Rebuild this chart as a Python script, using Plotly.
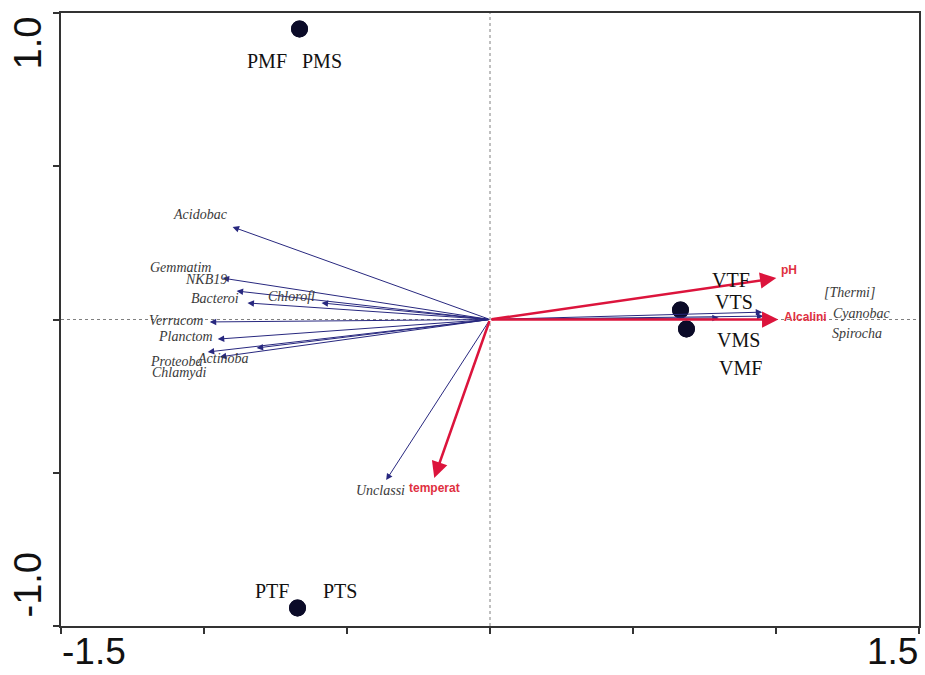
import plotly.graph_objects as go

# ---- data ----
species = ["Acidobac", "Gemmatim", "NKB19", "Bacteroi", "Chlorofl", "Verrucom",
           "Planctom", "Actinoba", "Proteoba", "Chlamydi", "Unclassi",
           "[Thermi]", "Cyanobac", "Spirocha"]
species_x = [-0.900, -0.935, -0.886, -0.848, -0.589, -0.980,
             -0.952, -0.816, -0.987, -0.945, -0.363,
             0.952, 0.956, 0.800]
species_y = [0.302, 0.135, 0.093, 0.054, 0.054, -0.008,
             -0.064, -0.093, -0.106, -0.122, -0.524,
             0.024, 0.011, 0.005]

env = ["pH", "Alcalini", "temperat"]
env_x = [1.001, 1.008, -0.195]
env_y = [0.135, 0.000, -0.517]

sites = ["PMF", "PMS", "PTF", "PTS", "VTF", "VTS", "VMS", "VMF"]
site_x = [-0.666, -0.666, -0.673, -0.673, 0.666, 0.666, 0.687, 0.687]
site_y = [0.948, 0.948, -0.941, -0.941, 0.031, 0.031, -0.031, -0.031]

x_ticks = [-1.5, -1.0, -0.5, 0.0, 0.5, 1.0, 1.5]
y_ticks = [-1.0, -0.5, 0.0, 0.5, 1.0]
x_tick_labels = {-1.5: "-1.5", 1.5: "1.5"}
y_tick_labels = {1.0: "1.0", -1.0: "-1.0"}

# ---- styles (label pixel offsets from the arrow tip / point) ----
species_shift = {
    "Acidobac": (-32, 12), "Gemmatim": (-42, 11), "NKB19": (-31, 12),
    "Bacteroi": (-32, 4), "Chlorofl": (-30, 6), "Verrucom": (-34, 1),
    "Planctom": (-32, 3), "Actinoba": (-34, -10), "Proteoba": (-31, -10),
    "Chlamydi": (-40, -16), "Unclassi": (-6, -10), "[Thermi]": (87, 20),
    "Cyanobac": (99, 3), "Spirocha": (138, -16),
}
env_shift = {"pH": (13, 8), "Alcalini": (27, 3), "temperat": (0, -10)}
site_shift = {
    "PMF": (-33, -32), "PMS": (22, -32), "PTF": (-26, 17), "PTS": (42, 17),
    "VTF": (51, 30), "VTS": (54, 8), "VMS": (52, -11), "VMF": (54, -39),
}

NAVY = "#28287f"
RED = "#dc143c"
SERIF = "Liberation Serif, Times New Roman, serif"
SANS = "Liberation Sans, Arial, sans-serif"

fig = go.Figure()

# sample points
fig.add_trace(go.Scatter(
    x=site_x, y=site_y, mode="markers",
    marker=dict(size=17, color="#0b0b28"),
    hoverinfo="text", text=sites, showlegend=False))

annotations = []
# species arrows
for name, sx, sy in zip(species, species_x, species_y):
    annotations.append(dict(
        x=sx, y=sy, ax=0, ay=0, xref="x", yref="y", axref="x", ayref="y",
        text="", showarrow=True, arrowhead=2, arrowsize=1.3, arrowwidth=1,
        arrowcolor=NAVY, standoff=0))
# environmental arrows
for name, ex, ey in zip(env, env_x, env_y):
    annotations.append(dict(
        x=ex, y=ey, ax=0, ay=0, xref="x", yref="y", axref="x", ayref="y",
        text="", showarrow=True, arrowhead=2, arrowsize=1.3, arrowwidth=2.5,
        arrowcolor=RED, standoff=0))
# species labels
for name, sx, sy in zip(species, species_x, species_y):
    dx, dy = species_shift[name]
    annotations.append(dict(
        x=sx, y=sy, xref="x", yref="y", text="<i>%s</i>" % name, showarrow=False,
        xshift=dx, yshift=dy, xanchor="center", yanchor="middle",
        font=dict(family=SERIF, size=14, color="#3a3a3a")))
# env labels
for name, ex, ey in zip(env, env_x, env_y):
    dx, dy = env_shift[name]
    annotations.append(dict(
        x=ex, y=ey, xref="x", yref="y", text="<b>%s</b>" % name, showarrow=False,
        xshift=dx, yshift=dy, xanchor="center", yanchor="middle",
        font=dict(family=SANS, size=12, color="#e0303f")))
# site labels
for name, px, py in zip(sites, site_x, site_y):
    dx, dy = site_shift[name]
    annotations.append(dict(
        x=px, y=py, xref="x", yref="y", text=name, showarrow=False,
        xshift=dx, yshift=dy, xanchor="center", yanchor="middle",
        font=dict(family=SERIF, size=20, color="#111111")))
# axis end labels
for v, lab in x_tick_labels.items():
    annotations.append(dict(
        x=v, y=0, xref="x", yref="paper", text=lab, showarrow=False,
        xanchor="left" if v < 0 else "right", yanchor="top", yshift=-4,
        borderpad=0,
        font=dict(family=SANS, size=37, color="#111111")))
for v, lab in y_tick_labels.items():
    annotations.append(dict(
        x=0, y=v, xref="paper", yref="y", text=lab, showarrow=False,
        textangle=-90, xanchor="right", xshift=-11,
        yanchor="top" if v > 0 else "bottom", yshift=-2 if v > 0 else 6,
        font=dict(family=SANS, size=38, color="#111111")))

shapes = [
    dict(type="line", xref="x", yref="paper", x0=0, x1=0, y0=0, y1=1,
         line=dict(color="#808080", width=1, dash="dot"), layer="below"),
    dict(type="line", xref="paper", yref="y", x0=0, x1=1, y0=0, y1=0,
         line=dict(color="#808080", width=1, dash="dot"), layer="below"),
]

fig.update_layout(
    width=925, height=675,
    margin=dict(l=61, r=4, t=13, b=49),
    paper_bgcolor="white", plot_bgcolor="white",
    annotations=annotations, shapes=shapes, showlegend=False,
    xaxis=dict(range=[-1.5, 1.5], tickvals=x_ticks, showticklabels=False,
               ticks="outside", ticklen=6, tickcolor="#333", tickwidth=1.5,
               showgrid=False, zeroline=False, showline=True, linecolor="#333",
               linewidth=2, mirror=True),
    yaxis=dict(range=[-1.0, 1.0], tickvals=y_ticks, showticklabels=False,
               ticks="outside", ticklen=6, tickcolor="#333", tickwidth=1.5,
               showgrid=False, zeroline=False, showline=True, linecolor="#333",
               linewidth=2, mirror=True),
)

fig.write_html("out.html")
